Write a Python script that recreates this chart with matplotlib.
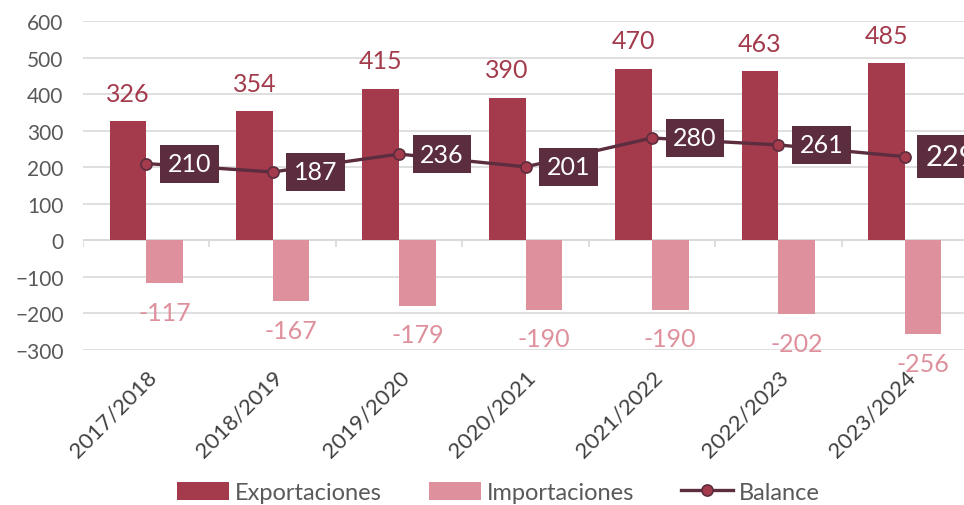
import matplotlib.pyplot as plt
import numpy as np

plt.rcParams['font.family'] = ['Lato', 'DejaVu Sans']

# data
years = ['2017/2018', '2018/2019', '2019/2020', '2020/2021',
         '2021/2022', '2022/2023', '2023/2024']
exportaciones = [326, 354, 415, 390, 470, 463, 485]
importaciones = [-117, -167, -179, -190, -190, -202, -256]
balance = [210, 187, 236, 201, 280, 261, 229]

c_exp = '#A33B4C'
c_imp = '#DE909C'
c_bal = '#5C2D3F'
c_txt = '#595959'

fig = plt.figure(figsize=(9.64, 5.06), dpi=100)
ax = fig.add_axes([83/964, 1 - 351/506, 885/964, 329/506])

x = np.arange(len(years))
w = 0.29
b1 = ax.bar(x - w/2, exportaciones, w, color=c_exp, label='Exportaciones', zorder=2)
b2 = ax.bar(x + w/2, importaciones, w, color=c_imp, label='Importaciones', zorder=2)
l1, = ax.plot(x, balance, color=c_bal, lw=2.4, marker='o', ms=8,
              mfc=c_exp, mec=c_bal, mew=1.2, label='Balance', zorder=3)

# value labels
for xi, v in zip(x, exportaciones):
    ax.annotate(str(v), (xi - w/2, v), xytext=(0, 20), textcoords='offset points',
                ha='center', va='center', fontsize=18, color=c_exp, zorder=4)
for xi, v in zip(x, importaciones):
    ax.annotate(str(v), (xi + w/2, v), xytext=(0, -21), textcoords='offset points',
                ha='center', va='center', fontsize=18, color=c_imp, zorder=4)
for i, (xi, v) in enumerate(zip(x, balance)):
    big = i == len(balance) - 1
    ax.annotate(str(v), (xi, v), xytext=(31 if not big else 33, 0),
                textcoords='offset points', ha='center', va='center',
                fontsize=18 if not big else 21, color='white', zorder=5,
                bbox=dict(boxstyle='square,pad=0.3', fc=c_bal, ec='none'),
                annotation_clip=False)

ax.set_xlim(-0.5, len(years) - 0.5)
ax.set_ylim(-300, 600)
ax.set_yticks(np.arange(-300, 601, 100))
ax.grid(axis='y', color='#D9D9D9', lw=1.2, zorder=0)
ax.axhline(0, color='#D9D9D9', lw=1.2, zorder=1)
ax.vlines(np.arange(len(years) + 1) - 0.5, 0, -19, color='#D9D9D9', lw=1.2, zorder=1)

for s in ax.spines.values():
    s.set_visible(False)
ax.tick_params(axis='both', length=0, labelsize=15, colors=c_txt)
ax.tick_params(axis='y', pad=14)
ax.set_xticks(x)
ax.set_xticklabels(years, rotation=45, ha='right', rotation_mode='anchor',
                   color='#404040', fontsize=16)
ax.tick_params(axis='x', pad=12)

leg = fig.legend([b1, b2, l1], ['Exportaciones', 'Importaciones', 'Balance'],
                 loc='center', bbox_to_anchor=(0.517, 0.025), ncol=3, frameon=False,
                 fontsize=17, handlelength=2.2, handleheight=0.8, columnspacing=2.0,
                 handletextpad=0.25)
for t in leg.get_texts():
    t.set_color(c_txt)

fig.savefig('out.png', dpi=100)
